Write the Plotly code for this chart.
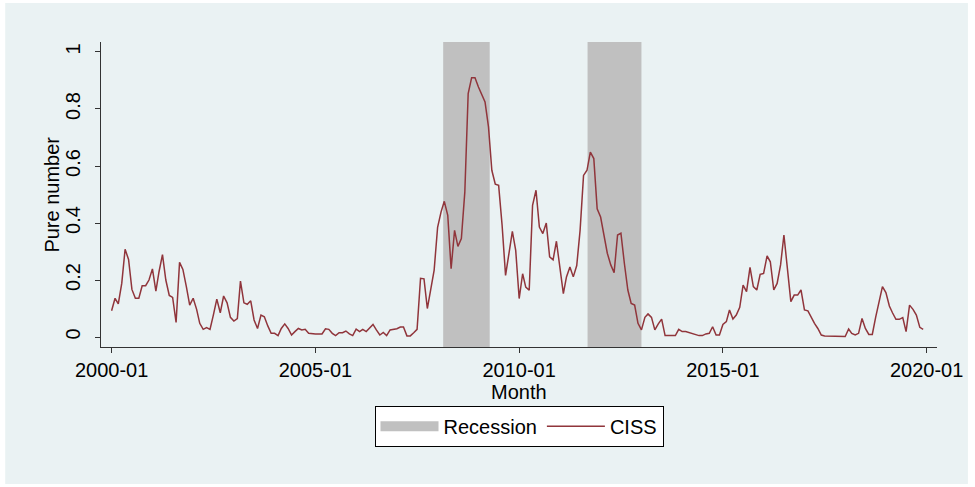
import pandas as pd
import plotly.graph_objects as go

# ---- data ----
months = pd.date_range("2000-01-01", periods=240, freq="MS")
ciss = [
    0.092, 0.136, 0.116, 0.188, 0.308, 0.272, 0.167, 0.136, 0.136, 0.18, 0.18, 0.2,
    0.239, 0.161, 0.229, 0.289, 0.2, 0.146, 0.139, 0.051, 0.262, 0.237, 0.177, 0.112,
    0.136, 0.097, 0.048, 0.027, 0.033, 0.027, 0.077, 0.133, 0.085, 0.144, 0.12, 0.069,
    0.056, 0.065, 0.196, 0.12, 0.115, 0.127, 0.06, 0.03, 0.077, 0.071, 0.039, 0.013,
    0.013, 0.005, 0.03, 0.046, 0.03, 0.007, 0.019, 0.03, 0.025, 0.027, 0.013, 0.011,
    0.011, 0.011, 0.011, 0.029, 0.027, 0.013, 0.005, 0.015, 0.015, 0.021, 0.011, 0.005,
    0.028, 0.019, 0.027, 0.019, 0.03, 0.044, 0.025, 0.007, 0.016, 0.005, 0.025, 0.027,
    0.029, 0.035, 0.035, 0.004, 0.004, 0.015, 0.027, 0.206, 0.204, 0.1, 0.165, 0.235,
    0.385, 0.439, 0.476, 0.427, 0.24, 0.374, 0.318, 0.345, 0.509, 0.854, 0.91, 0.91,
    0.877, 0.848, 0.825, 0.737, 0.585, 0.536, 0.532, 0.392, 0.216, 0.292, 0.371, 0.304,
    0.135, 0.222, 0.175, 0.164, 0.462, 0.515, 0.386, 0.363, 0.4, 0.281, 0.271, 0.336,
    0.246, 0.152, 0.211, 0.246, 0.211, 0.251, 0.374, 0.567, 0.585, 0.649, 0.626, 0.45,
    0.421, 0.36, 0.294, 0.253, 0.226, 0.358, 0.364, 0.258, 0.165, 0.118, 0.112, 0.048,
    0.025, 0.069, 0.081, 0.069, 0.025, 0.046, 0.063, 0.005, 0.005, 0.005, 0.005, 0.027,
    0.019, 0.019, 0.016, 0.011, 0.007, 0.005, 0.005, 0.011, 0.013, 0.036, 0.007, 0.007,
    0.044, 0.054, 0.095, 0.063, 0.077, 0.104, 0.182, 0.159, 0.244, 0.177, 0.165, 0.22,
    0.223, 0.285, 0.264, 0.165, 0.188, 0.253, 0.358, 0.235, 0.124, 0.147, 0.147, 0.165,
    0.095, 0.092, 0.069, 0.048, 0.03, 0.007, 0.004, 0.004, 0.004, 0.004, 0.004, 0.002,
    0.002, 0.028, 0.013, 0.007, 0.013, 0.065, 0.03, 0.009, 0.009, 0.069, 0.12, 0.177,
    0.156, 0.109, 0.085, 0.062, 0.062, 0.068, 0.019, 0.112, 0.097, 0.077, 0.034, 0.027,
]
recession_start = ["2008-02-20", "2011-09-06"]
recession_end = ["2009-04-12", "2013-01-01"]
x_ticks = ["2000-01-01", "2005-01-01", "2010-01-01", "2015-01-01", "2020-01-01"]
y_ticks = [0, 0.2, 0.4, 0.6, 0.8, 1]
y_range = [-0.035, 1.035]
x_range = ["1999-09-28", "2020-04-03"]

# ---- figure ----
rx, ry = [], []
for s, e in zip(recession_start, recession_end):
    rx += [s, s, e, e, s, None]
    ry += [y_range[0], y_range[1], y_range[1], y_range[0], y_range[0], None]

fig = go.Figure()
fig.add_trace(go.Scatter(
    x=rx, y=ry, mode="none", fill="toself", fillcolor="#C0C0C0",
    name="Recession", hoverinfo="skip", showlegend=False, legendgroup="rec",
))
# legend entry for the recession shading (drawn as a wide grey swatch)
fig.add_trace(go.Scatter(
    x=[None], y=[None], mode="lines", name="Recession", legendgroup="rec",
    line=dict(color="#C0C0C0", width=23),
))
fig.add_trace(go.Scatter(
    x=months, y=ciss, mode="lines", name="CISS",
    line=dict(color="#90353B", width=1.5),
))

FONT = "Liberation Sans, Arial, sans-serif"
fig.update_layout(
    width=975, height=487,
    margin=dict(l=101, r=36, t=42, b=140),
    paper_bgcolor="white", plot_bgcolor="white",
    font=dict(family=FONT, size=20, color="black"),
    showlegend=True,
    legend=dict(
        orientation="h", x=0.5, xanchor="center", y=-0.193, yanchor="top",
        bgcolor="white", bordercolor="black", borderwidth=1,
        font=dict(size=20), itemwidth=58, traceorder="normal",
    ),
    shapes=[dict(
        type="rect", xref="paper", yref="paper", layer="below",
        x0=(5 - 101) / 838, x1=(970 - 101) / 838,
        y0=(347 - 484) / 305, y1=(347 - 3) / 305,
        fillcolor="#EAF2F3", line=dict(width=0),
    )],
    annotations=[
        dict(text="Month", xref="paper", yref="paper", x=0.5, y=(347 - 392) / 305,
             xanchor="center", yanchor="middle", showarrow=False,
             font=dict(size=20)),
        dict(text="Pure number", xref="paper", yref="paper", x=(51 - 101) / 838,
             y=0.5, xanchor="center", yanchor="middle", showarrow=False,
             textangle=-90, font=dict(size=20)),
    ],
)
fig.update_xaxes(
    type="date", range=x_range, tickvals=x_ticks, tickformat="%Y-%m",
    ticks="outside", ticklen=5, tickcolor="#333", showline=True,
    linecolor="#333", linewidth=1, showgrid=False, zeroline=False,
)
fig.update_yaxes(
    range=y_range, tickvals=y_ticks, tickangle=-90, ticklabelstandoff=7,
    ticks="outside", ticklen=5, tickcolor="#333", showline=True,
    linecolor="#333", linewidth=1, showgrid=True, gridcolor="#EAF2F3",
    gridwidth=1.5, zeroline=False,
)

fig.write_html("out.html", config={"displayModeBar": False},
               post_script="document.body.style.margin='0';")
